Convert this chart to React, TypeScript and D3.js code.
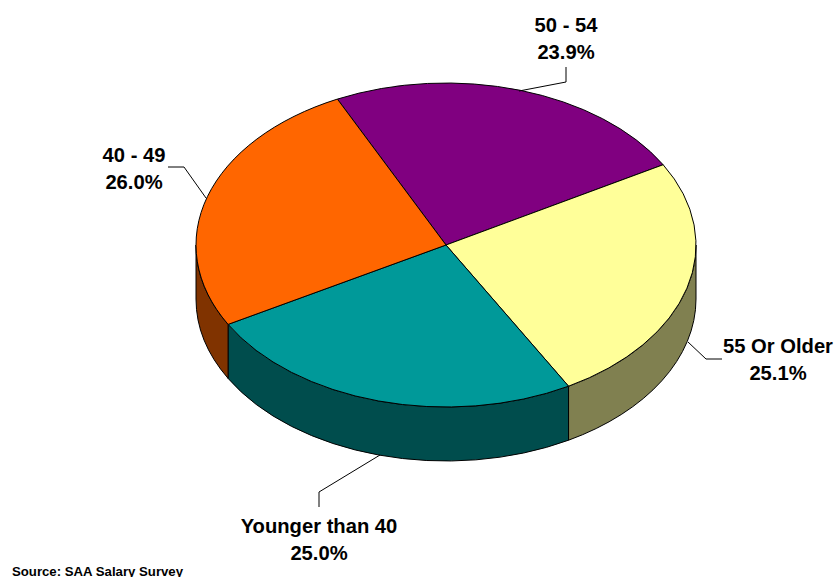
import React from "react";
import * as d3 from "d3";

const categories = ["50 - 54", "55 Or Older", "Younger than 40", "40 - 49"];
const percents = [23.9, 25.1, 25.0, 26.0];
const topColors = ["#800080", "#FFFF99", "#009999", "#FF6600"];
const sideColors = ["#400040", "#808050", "#004D4D", "#803300"];
const labelX = [566, 778, 319, 134];
const labelY = [32, 353, 533, 162];
const leaders = [
  [[566, 67], [566, 82], [519, 91]],
  [[722, 359], [706, 359], [688, 342]],
  [[319, 507], [319, 492], [380, 455]],
  [[168, 167], [184, 167], [206, 198]],
];

const W = 836, H = 577;
const cx = 446, cy = 245, rx = 250, ry = 162, depth = 54;
const startDeg = -25.75;

const pt = (a: number, dy = 0): [number, number] => [
  cx + rx * Math.sin(a),
  cy - ry * Math.cos(a) + dy,
];
const f = (p: [number, number]) => `${p[0].toFixed(2)},${p[1].toFixed(2)}`;
const arcTo = (a0: number, a1: number, dy = 0) => {
  const large = Math.abs(a1 - a0) > Math.PI ? 1 : 0;
  const sweep = a1 > a0 ? 1 : 0;
  return `A${rx},${ry} 0 ${large} ${sweep} ${f(pt(a1, dy))}`;
};

const pie = d3
  .pie<number>()
  .sort(null)
  .startAngle((startDeg * Math.PI) / 180)
  .endAngle((startDeg * Math.PI) / 180 + 2 * Math.PI);
const slices = pie(percents);

export default function App() {
  const lineGen = d3.line();
  return (
    <svg
      width={W}
      height={H}
      style={{ position: "absolute", left: 0, top: 0, display: "block" }}
      fontFamily="'Liberation Sans', Arial, sans-serif"
      fontWeight="bold"
    >
      <rect width={W} height={H} fill="#fff" />
      {slices.map((s, i) => {
        // visible wall: the part of the slice facing the viewer (90deg..270deg)
        const a0 = Math.max(s.startAngle, Math.PI / 2);
        const a1 = Math.min(s.endAngle, (3 * Math.PI) / 2);
        if (a1 <= a0) return null;
        const d = `M${f(pt(a0))}${arcTo(a0, a1)}L${f(pt(a1, depth))}${arcTo(a1, a0, depth)}Z`;
        return <path key={i} d={d} fill={sideColors[i]} stroke="#000" strokeWidth={1} />;
      })}
      {slices.map((s, i) => (
        <path
          key={i}
          d={`M${cx},${cy}L${f(pt(s.startAngle))}${arcTo(s.startAngle, s.endAngle)}Z`}
          fill={topColors[i]}
          stroke="#000"
          strokeWidth={1}
          strokeLinejoin="round"
        />
      ))}
      {leaders.map((l, i) => (
        <path key={i} d={lineGen(l as [number, number][]) ?? ""} fill="none" stroke="#000" strokeWidth={1} />
      ))}
      {categories.map((c, i) => (
        <text key={c} textAnchor="middle" fontSize={20.2} fill="#000">
          <tspan x={labelX[i]} y={labelY[i]}>{c}</tspan>
          <tspan x={labelX[i]} y={labelY[i] + 26.5}>{percents[i].toFixed(1)}%</tspan>
        </text>
      ))}
      <text x={12} y={576} fontSize={13.2} fill="#000">Source: SAA Salary Survey</text>
    </svg>
  );
}
